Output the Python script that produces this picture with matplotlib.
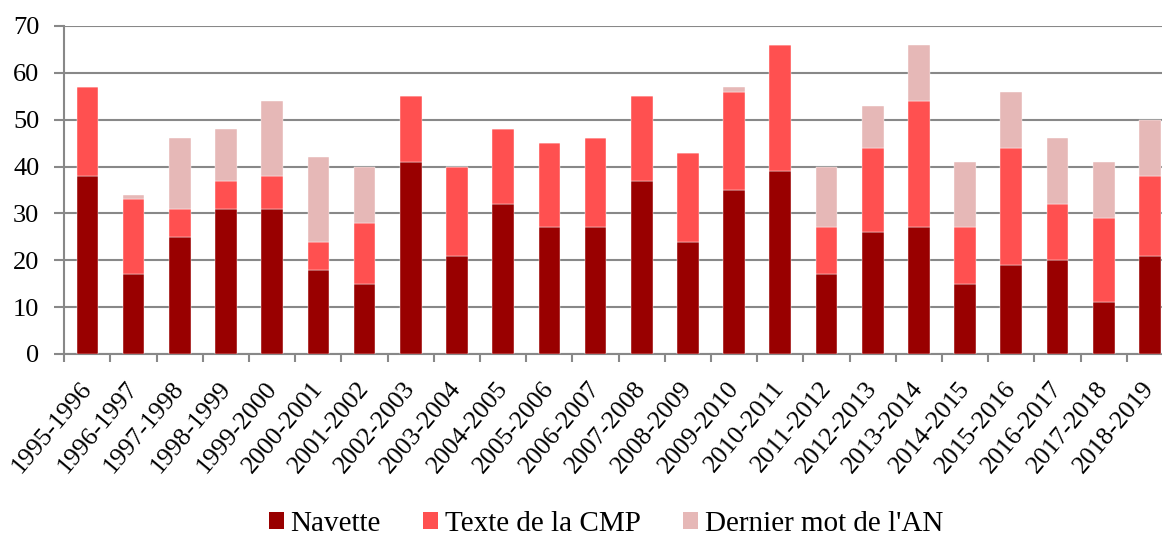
import matplotlib
matplotlib.use("Agg")
import matplotlib.pyplot as plt
import matplotlib.transforms as mtransforms
import numpy as np
from matplotlib.patches import Patch

categories = ["1995-1996", "1996-1997", "1997-1998", "1998-1999", "1999-2000",
              "2000-2001", "2001-2002", "2002-2003", "2003-2004", "2004-2005",
              "2005-2006", "2006-2007", "2007-2008", "2008-2009", "2009-2010",
              "2010-2011", "2011-2012", "2012-2013", "2013-2014", "2014-2015",
              "2015-2016", "2016-2017", "2017-2018", "2018-2019"]
navette = [38, 17, 25, 31, 31, 18, 15, 41, 21, 32, 27, 27, 37, 24, 35, 39,
           17, 26, 27, 15, 19, 20, 11, 21]
texte_cmp = [19, 16, 6, 6, 7, 6, 13, 14, 19, 16, 18, 19, 18, 19, 21, 27,
             10, 18, 27, 12, 25, 12, 18, 17]
dernier_mot = [0, 1, 15, 11, 16, 18, 12, 0, 0, 0, 0, 0, 0, 0, 1, 0,
               13, 9, 12, 14, 12, 14, 12, 12]
series_names = ["Navette", "Texte de la CMP", "Dernier mot de l'AN"]
yticks = [0, 10, 20, 30, 40, 50, 60, 70]

colors = ["#990000", "#FF5050", "#E6B8B7"]
font = "Liberation Serif"
plt.rcParams["font.family"] = [font, "DejaVu Serif"]

W, H = 1162, 536
fig = plt.figure(figsize=(W / 100, H / 100), dpi=100)
left, right, top, bottom = 64.3, 1173.0, 26.0, 354.0
ax = fig.add_axes([left / W, 1 - bottom / H, (right - left) / W, (bottom - top) / H])

x = np.arange(len(categories))
n = np.array(navette)
c = np.array(texte_cmp)
d = np.array(dernier_mot)
bw = 0.47
ax.bar(x, n, bw, color=colors[0], edgecolor="white", linewidth=0.3, zorder=3)
ax.bar(x, c, bw, bottom=n, color=colors[1], edgecolor="white", linewidth=0.3, zorder=3)
ax.bar(x, d, bw, bottom=n + c, color=colors[2], edgecolor="white", linewidth=0.3, zorder=3)

ax.set_xlim(-0.5, len(categories) - 0.5)
ax.set_ylim(0, 70)
ax.set_yticks(yticks)
ax.set_yticklabels([str(v) for v in yticks], fontsize=19)
ax.yaxis.grid(True, color="#888888", linewidth=1.5, zorder=0)
ax.set_axisbelow(True)

ax.set_xticks(np.arange(len(categories) + 1) - 0.5)
ax.set_xticklabels([])
ax.set_xticks(x, minor=True)
ax.set_xticklabels(categories, minor=True, rotation=50, ha="right", va="top",
                   rotation_mode="anchor", fontsize=18.5)
ax.tick_params(axis="x", which="minor", length=0, pad=17)
ax.tick_params(axis="x", which="major", length=6, width=1.5, color="#888888")
ax.tick_params(axis="y", length=7, width=1.5, color="#888888", pad=11)
offset = mtransforms.ScaledTranslation(-0.08, 0, fig.dpi_scale_trans)
for lab in ax.get_xticklabels(minor=True):
    lab.set_transform(lab.get_transform() + offset)

for s in ["top", "right"]:
    ax.spines[s].set_visible(False)
for s in ["left", "bottom"]:
    ax.spines[s].set_color("#888888")
    ax.spines[s].set_linewidth(1.5)

handles = [Patch(facecolor=colors[i], label=series_names[i]) for i in range(3)]
fig.legend(handles=handles, loc="center", bbox_to_anchor=(0.5 * (265 + 947) / W, 1 - 524 / H),
           ncol=3, frameon=False, fontsize=21, handlelength=0.52, handleheight=0.52,
           handletextpad=0.22, columnspacing=1.45, borderpad=0.1)

fig.savefig("out.png", dpi=100)
